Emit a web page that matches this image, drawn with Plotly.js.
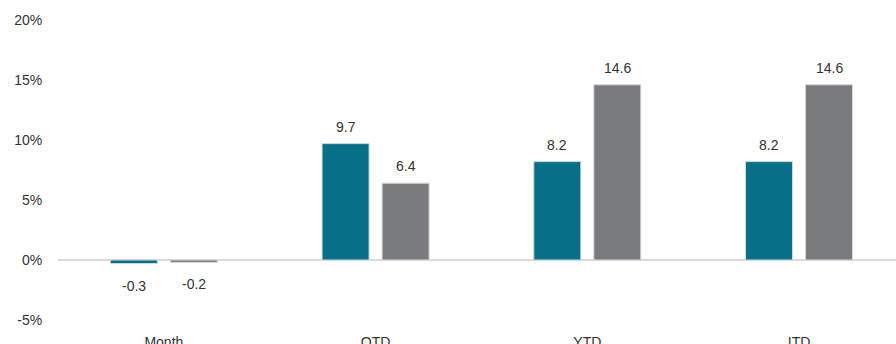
<!DOCTYPE html>
<html>
<head>
<meta charset="utf-8">
<script src="https://cdn.plot.ly/plotly-3.0.1.min.js"></script>
<style>html,body{margin:0;padding:0;background:#fff;}#chart{width:896px;height:344px;}</style>
</head>
<body>
<div id="chart"></div>
<script>
const categories = ["Month", "QTD", "YTD", "ITD"];
const seriesA = [-0.3, 9.7, 8.2, 8.2];
const seriesB = [-0.2, 6.4, 14.6, 14.6];
const yTickVals = [-5, 0, 5, 10, 15, 20];
const yTickText = ["-5%", "0%", "5%", "10%", "15%", "20%"];

const fontFam = "Liberation Sans, Arial, sans-serif";
const common = {type: "bar", x: categories, hoverinfo: "skip"};
const traces = [
  Object.assign({}, common, {
    y: seriesA,
    marker: {color: "#076f88", line: {color: "#c9dde2", width: 1}}
  }),
  Object.assign({}, common, {
    y: seriesB,
    marker: {color: "#7a7b7f", line: {color: "#d8d8da", width: 1}}
  })
];
const annotations = [];
[[seriesA, -30], [seriesB, 30]].forEach(([vals, dx]) => {
  vals.forEach((v, i) => {
    annotations.push({
      x: categories[i], y: v, xref: "x", yref: "y",
      text: v.toFixed(1), showarrow: false,
      xshift: dx, yshift: v >= 0 ? 17 : -22,
      yanchor: "middle", xanchor: "center",
      font: {family: fontFam, size: 14, color: "#333333"}
    });
  });
});
const layout = {
  width: 896, height: 344,
  margin: {l: 58, r: 0, t: 20, b: 24},
  paper_bgcolor: "#fff", plot_bgcolor: "#fff",
  showlegend: false,
  barmode: "group",
  bargap: 0.433,
  bargroupgap: 0.217,
  font: {family: fontFam, size: 14, color: "#333333"},
  annotations: annotations,
  xaxis: {
    range: [-0.5, 3.458],
    showgrid: false, showline: false, zeroline: false,
    ticks: "outside", ticklen: 9, tickcolor: "rgba(0,0,0,0)",
    tickfont: {family: fontFam, size: 14, color: "#333333"},
    fixedrange: true
  },
  yaxis: {
    range: [-5, 20],
    tickvals: yTickVals, ticktext: yTickText,
    showgrid: false, showline: false,
    zeroline: true, zerolinecolor: "#d9d9d9", zerolinewidth: 2,
    ticks: "outside", ticklen: 12, tickcolor: "rgba(0,0,0,0)",
    tickfont: {family: fontFam, size: 14, color: "#333333"},
    fixedrange: true
  }
};
Plotly.newPlot("chart", traces, layout, {displayModeBar: false, staticPlot: true});
</script>
</body>
</html>
